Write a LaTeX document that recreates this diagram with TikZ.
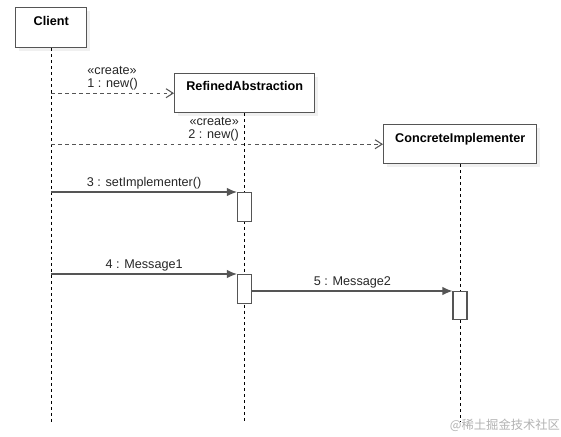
\documentclass[tikz,border=0pt]{standalone}
\usepackage{fontspec}
\setmainfont{Liberation Sans}
\newfontfamily\cjk{Noto Sans CJK SC}
\usetikzlibrary{positioning,arrows.meta,shadows}

\definecolor{linegray}{HTML}{555555}

\tikzset{
	obj/.style={rectangle, draw=linegray, line width=0.8pt, fill=white, anchor=north west, inner sep=0pt,
		drop shadow={shadow xshift=0.07cm, shadow yshift=-0.07cm, opacity=0.12}},
	objname/.style={font=\fontsize{7.2}{8.6}\selectfont\bfseries, inner sep=0pt},
	lifeline/.style={black, line width=0.5pt, dash pattern=on 1.7pt off 1.7pt},
	act/.style={rectangle, draw=linegray, line width=0.8pt, fill=white, anchor=north, inner sep=0pt, minimum width=0.28cm},
	msg/.style={draw=linegray, line width=0.75pt, -{Latex[length=0.2cm, width=0.17cm]}},
	create/.style={draw=linegray, line width=0.6pt, dash pattern=on 2pt off 2pt, -{Straight Barb[length=0.14cm, width=0.18cm]}},
	msgtext/.style={font=\fontsize{7.2}{7.4}\selectfont, inner sep=1.5pt, text=black!85}
}

\begin{document}
\begin{tikzpicture}[x=0.02cm, y=-0.02cm]
	\useasboundingbox (0,0) rectangle (561,436);

	% objects
	\node [obj, minimum width=1.42cm, minimum height=0.8cm] (client) at (15,7) {};
	\node [objname, below = 0.18cm of client.north] (clientname) {Client};
	\node [obj, minimum width=2.8cm, minimum height=0.78cm] (refined) at (174,73) {};
	\node [objname, below = 0.16cm of refined.north] (refinedname) {RefinedAbstraction};
	\node [obj, minimum width=3.06cm, minimum height=0.78cm] (concrete) at (383,124) {};
	\node [objname, below = 0.18cm of concrete.north] (concretename) {ConcreteImplementer};

	% lifelines
	\coordinate (clientend) at (client.south |- 0,422);
	\coordinate (refinedend) at (refined.south |- 0,422);
	\coordinate (concreteend) at (concrete.south |- 0,422);
	\draw [lifeline] (client.south) -- (clientend);
	\draw [lifeline] (refined.south) -- (refinedend);
	\draw [lifeline] (concrete.south) -- (concreteend);

	% activations
	\node [act, minimum height=0.58cm] (act3) at (refined.south |- 0,192) {};
	\node [act, minimum height=0.58cm] (act4) at (refined.south |- 0,274) {};
	\node [act, minimum height=0.56cm] (act5) at (concrete.south |- 0,291) {};

	% messages
	\draw [create] (client.south |- refined.west) -- (refined.west)
	node[msgtext, midway, above, align=left]{«create»\\1 : new()};
	\draw [create] (client.south |- concrete.west) -- (concrete.west)
	node[msgtext, pos=0.575, above left, align=right]{«create»\\2 : new()};
	\draw [msg] (client.south |- act3.north) -- (act3.north west)
	node[msgtext, midway, above]{3 : setImplementer()};
	\draw [msg] (client.south |- act4.north) -- (act4.north west)
	node[msgtext, midway, above]{4 : Message1};
	\draw [msg] (act4.east |- act5.north) -- (act5.north west)
	node[msgtext, midway, above]{5 : Message2};

	\node [font=\cjk\fontsize{7}{8}\selectfont, text=black!30, inner sep=0pt] (mark) at (505,425) {@稀土掘金技术社区};
\end{tikzpicture}
\end{document}
